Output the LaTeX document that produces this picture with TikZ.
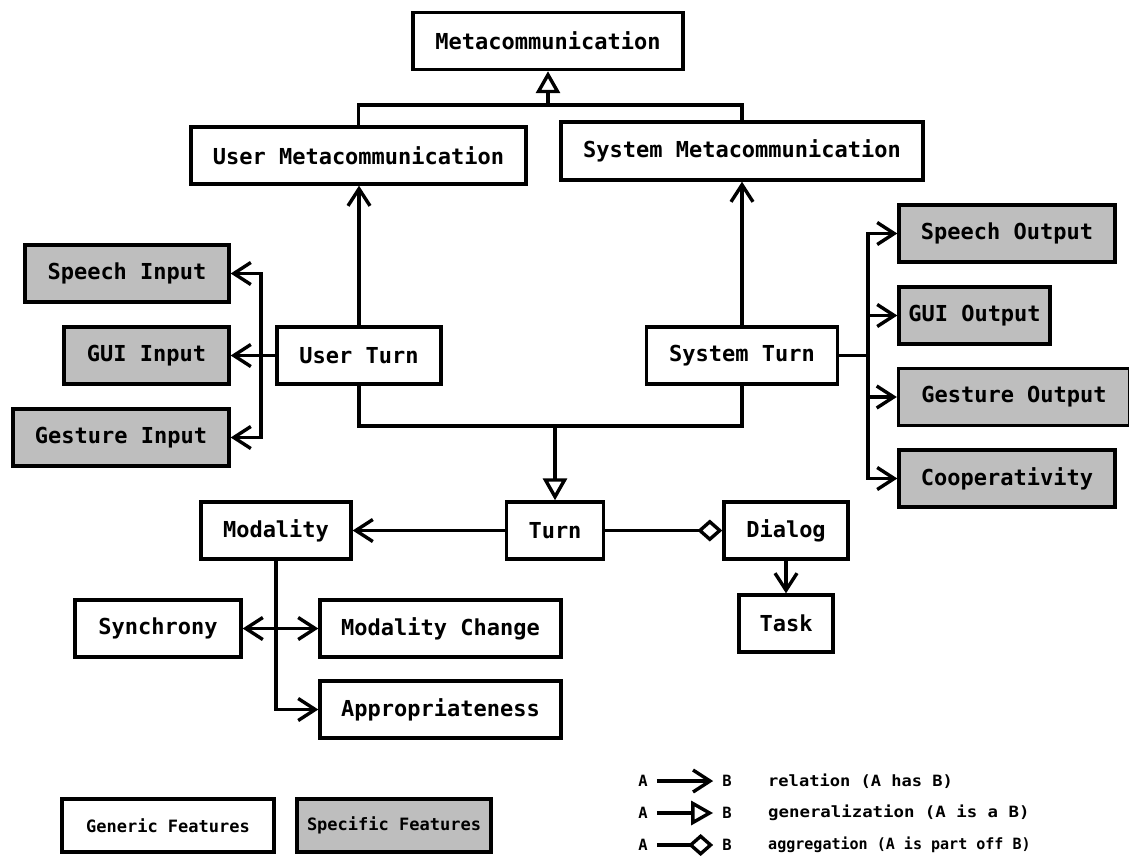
\documentclass[tikz,border=0pt]{standalone}
\usepackage{fontspec}
\setmonofont{DejaVu Sans Mono}
\usetikzlibrary{arrows.meta}
\definecolor{specfill}{RGB}{190,190,190}
\begin{document}
\begin{tikzpicture}[x=1pt,y=-1pt,
  every node/.style={font=\ttfamily\bfseries\fontsize{22}{26}\selectfont},
  box/.style={draw, line width=3.4pt, fill=white, minimum height=57pt, inner sep=0pt},
  spec/.style={box, fill=specfill},
  legbox/.style={box, minimum height=53pt, font=\ttfamily\bfseries\fontsize{17}{20}\selectfont},
  legtxt/.style={font=\ttfamily\bfseries\fontsize{15.5}{18}\selectfont, inner sep=0pt},
  wire/.style={line width=3.4pt},
  rel/.style={wire, -{Straight Barb[length=17pt,width=22pt]}},
  gen/.style={wire, -{Triangle[length=22pt,width=24pt,fill=white]}},
  agg/.style={wire, -{Diamond[length=25pt,width=22pt,fill=white]}},
]
\useasboundingbox (0,0) rectangle (1129,855);

% generic and specific feature boxes
\node[box, minimum width=270pt] (meta) at (548,41) {Metacommunication};
\node[box, minimum width=335pt] (um)   at (358.5,155.5) {User Metacommunication};
\node[box, minimum width=362pt, minimum height=58pt] (sm) at (742,151) {System Metacommunication};
\node[box, minimum width=164pt] (ut)   at (359,355.5) {User Turn};
\node[box, minimum width=191pt] (st)   at (742,355.5) {System Turn};

\node[spec, minimum width=204pt] (si)  at (127,273.5) {Speech Input};
\node[spec, minimum width=165pt] (gi)  at (146.5,355.5) {GUI Input};
\node[spec, minimum width=216pt] (gsi) at (121,437.5) {Gesture Input};

\node[spec, minimum width=216pt] (so)  at (1007,233.5) {Speech Output};
\node[spec, minimum width=151pt] (go)  at (974.5,315.5) {GUI Output};
\node[spec, minimum width=231pt] (gso) at (1014,397) {Gesture Output};
\node[spec, minimum width=216pt] (co)  at (1007,478.5) {Cooperativity};

\node[box, minimum width=97pt]  (turn) at (555,530.5) {Turn};
\node[box, minimum width=150pt] (mod)  at (276,530.5) {Modality};
\node[box, minimum width=124pt] (dia)  at (786,530.5) {Dialog};
\node[box, minimum width=94pt]  (task) at (786,623.5) {Task};
\node[box, minimum width=166pt] (syn)  at (158,628.5) {Synchrony};
\node[box, minimum width=241pt] (mc)   at (440.5,628.5) {Modality Change};
\node[box, minimum width=241pt] (ap)   at (440.5,709.5) {Appropriateness};

% junction points
\coordinate (tj) at (548,105);
\coordinate (bj) at (555,426);
\coordinate (ib) at (261,355.5);
\coordinate (ob) at (868,355.5);
\coordinate (mj) at (276,628.5);

% metacommunication hierarchy
\draw[wire] (um.north) |- (tj) -| (sm.north);
\draw[gen] (tj) -- (meta.south);
\draw[rel] (ut.north) -- (ut.north |- um.south);
\draw[rel] (st.north) -- (st.north |- sm.south);

% turn hierarchy
\draw[wire] (ut.south) |- (bj) -| (st.south);
\draw[gen] (bj) -- (turn.north);

% user input channels
\draw[wire] (ut.west) -- (ib);
\draw[rel] (ib) -- (gi.east);
\draw[rel] (ib) |- (si.east);
\draw[rel] (ib) |- (gsi.east);

% system output channels
\draw[wire] (st.east) -- (ob);
\draw[rel] (ob) |- (so.west);
\draw[rel] (ob) |- (go.west);
\draw[rel] (ob) |- (gso.west);
\draw[rel] (ob) |- (co.west);

% turn, modality, dialog
\draw[rel] (turn.west) -- (mod.east);
\draw[agg] (turn.east) -- (dia.west);
\draw[rel] (dia.south) -- (task.north);
\draw[wire] (mod.south) -- (mj);
\draw[rel] (mj) -- (syn.east);
\draw[rel] (mj) -- (mc.west);
\draw[rel] (mod.south) |- (ap.west);

% legend
\node[legbox, minimum width=212pt] (lg) at (168,825.5) {Generic Features};
\node[legbox, fill=specfill, minimum width=194pt] (ls) at (394,825.5) {Specific Features};

\node[legtxt, inner xsep=9pt] (a1) at (643,781) {A};
\node[legtxt, inner xsep=9pt] (b1) at (727,781) {B};
\node[legtxt, inner xsep=9pt] (a2) at (643,813) {A};
\node[legtxt, inner xsep=9pt] (b2) at (727,813) {B};
\node[legtxt, inner xsep=9pt] (a3) at (643,845) {A};
\node[legtxt, inner xsep=9pt] (b3) at (727,845) {B};
\draw[rel] (a1) -- (b1);
\draw[gen] (a2) -- (b2);
\draw[agg] (a3) -- (b3);
\node[legtxt, anchor=west] (t1) at (768,781) {\scalebox{1.1}[1]{relation (A has B)}};
\node[legtxt, anchor=west] (t2) at (768,813) {\scalebox{1.12}[1]{generalization (A is a B)}};
\node[legtxt, anchor=west] (t3) at (768,845) {\scalebox{0.97}[1]{aggregation (A is part off B)}};
\end{tikzpicture}
\end{document}
